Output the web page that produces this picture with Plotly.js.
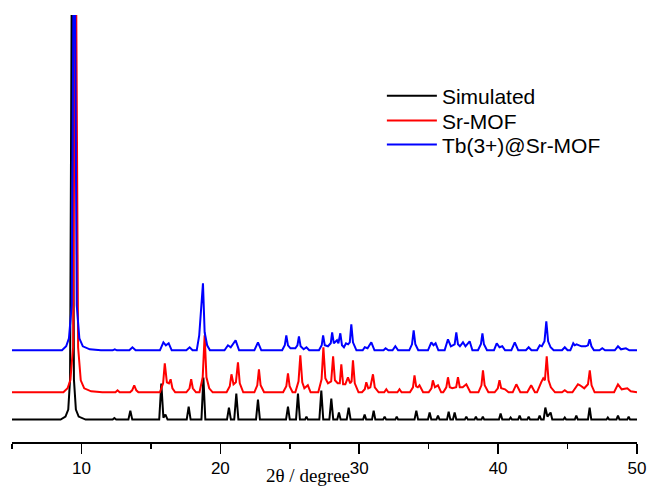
<!DOCTYPE html>
<html>
<head>
<meta charset="utf-8">
<script src="https://cdn.plot.ly/plotly-3.0.1.min.js"></script>
<style>html,body{margin:0;padding:0;background:#fff;}#chart{width:649px;height:494px;}</style>
</head>
<body>
<div id="chart"></div>
<script>
const seriesNames = ["Simulated", "Sr-MOF", "Tb(3+)@Sr-MOF"];
const seriesColors = ["#000000", "#ff0000", "#0000ff"];
const stackOffsets = [22.4, 49.7, 91.7];

const simTheta = [5.0, 8.5, 8.85, 9.05, 9.18, 9.32, 9.46, 9.6, 9.8, 10.3,
  12.25, 12.37, 12.5, 13.38, 13.52, 13.66,
  15.6, 15.75, 15.9, 16.05, 16.2, 17.58, 17.72, 17.86,
  18.64, 18.78, 18.92, 20.48, 20.62, 20.76, 21.0, 21.15, 21.3,
  22.57, 22.71, 22.85, 24.73, 24.87, 25.0, 25.45, 25.59, 25.73, 26.1, 26.2, 26.3,
  27.13, 27.27, 27.41, 27.85, 27.99, 28.13, 28.42, 28.54, 28.66, 29.1, 29.24, 29.38,
  30.28, 30.39, 30.5, 30.92, 31.04, 31.16, 31.72, 31.83, 31.94, 32.6, 32.7, 32.8,
  33.98, 34.11, 34.24, 34.95, 35.07, 35.19, 35.56, 35.67, 35.78,
  36.32, 36.44, 36.56, 36.75, 36.87, 36.99, 37.6, 37.71, 37.82, 38.3, 38.4, 38.5,
  38.8, 38.9, 39.0, 40.06, 40.18, 40.3, 40.8, 40.9, 41.0, 41.44, 41.55, 41.66,
  42.1, 42.2, 42.3, 42.88, 42.99, 43.1, 43.28, 43.4, 43.55, 43.78, 43.9,
  44.7, 44.8, 44.9, 45.52, 45.63, 45.74, 46.47, 46.59, 46.71,
  47.8, 47.9, 48.0, 48.52, 48.63, 48.74, 49.3, 49.4, 49.5, 50.0];
const simIntensity = [0, 0, 3, 10, 40, 500, 40, 10, 3, 0,
  0, 1.5, 0, 0, 9, 0,
  0, 36, 2, 5, 0, 0, 13, 0,
  0, 42, 0, 0, 12, 0, 0, 26, 0,
  0, 20, 0, 0, 13, 0, 0, 26, 0, 0, 3, 0,
  0, 29, 0, 0, 21, 0, 0, 7, 0, 0, 12, 0,
  0, 5, 0, 0, 9, 0, 0, 3, 0, 0, 3, 0,
  0, 9, 0, 0, 7, 0, 0, 4, 0,
  0, 8, 0, 0, 7, 0, 0, 3, 0, 0, 3, 0,
  0, 3, 0, 0, 6, 0, 0, 2, 0, 0, 4, 0,
  0, 3, 0, 0, 4, 0, 0, 12, 3, 7, 0,
  0, 2, 0, 0, 4, 0, 0, 12, 0,
  0, 2, 0, 0, 4, 0, 0, 3, 0, 0];

const srTheta = [5.0, 8.7, 9.0, 9.2, 9.4, 9.58, 9.76, 9.95, 10.2, 10.7, 11.5,
  12.45, 12.6, 12.75, 13.5, 13.65, 13.8, 13.95, 14.1,
  15.65, 15.88, 16.0, 16.15, 16.3, 16.42, 16.55, 16.75,
  17.55, 17.78, 17.9, 18.02, 18.25,
  18.5, 18.73, 18.87, 19.0, 19.2, 19.45,
  20.45, 20.68, 20.8, 20.95, 21.12, 21.27, 21.4, 21.65,
  22.45, 22.66, 22.78, 22.9, 23.15, 24.52, 24.75, 24.87, 24.99, 25.2,
  25.4, 25.63, 25.76, 25.9, 26.05, 26.3, 26.5,
  27.05, 27.29, 27.42, 27.56, 27.75, 27.98, 28.12, 28.25, 28.45, 28.6, 28.71, 28.84,
  29.0, 29.19, 29.35, 29.45, 29.55, 29.68, 29.95,
  30.2, 30.4, 30.51, 30.65, 30.8, 30.99, 31.12, 31.4,
  31.8, 31.95, 32.1, 32.75, 32.9, 33.05,
  33.65, 33.87, 33.98, 34.1, 34.22, 34.34, 34.6,
  35.0, 35.2, 35.3, 35.45, 35.67, 35.9,
  36.05, 36.27, 36.39, 36.52, 36.7, 36.98, 37.11, 37.24, 37.45, 37.71, 38.0,
  38.58, 38.8, 38.91, 39.03, 39.3,
  39.75, 39.98, 40.1, 40.22, 40.5, 40.75,
  41.05, 41.31, 41.6, 42.1, 42.38, 42.65,
  42.8, 43.1, 43.25, 43.37, 43.5, 43.63, 43.8, 44.1,
  44.6, 44.8, 45.0,
  45.35, 45.75, 45.9, 46.2, 46.47, 46.6, 46.73, 46.95,
  48.35, 48.63, 48.9, 49.3, 49.55, 50.0];
const srIntensity = [0, 0, 4, 12, 45, 500, 45, 12, 4, 1, 0,
  0, 2, 0, 0, 2, 7, 2, 0,
  0, 9, 29, 10, 9, 13, 4, 0,
  0, 4, 13, 4, 0,
  0, 15, 57, 15, 4, 0,
  0, 6, 18, 8, 10, 30, 9, 0,
  0, 7, 23, 7, 0, 0, 6, 19, 6, 0,
  0, 11, 37, 10, 4, 7, 0,
  0, 13, 45, 14, 9, 11, 36, 12, 9, 9, 28, 8,
  8, 15, 9, 11, 32, 9, 0,
  0, 3, 10, 4, 5, 18, 5, 0,
  0, 3, 0, 0, 3, 0,
  0, 5, 17, 6, 5, 7, 0,
  0, 4, 12, 5, 7, 0,
  0, 5, 15, 5, 4, 5, 15, 5, 5, 8, 0,
  0, 7, 22, 7, 0,
  0, 4, 12, 4, 3, 0,
  0, 8, 0, 0, 7, 0,
  0, 10, 14, 12, 36, 12, 5, 0,
  0, 2, 0,
  0, 8, 7, 4, 8, 22, 7, 0,
  0, 8, 3, 4, 1, 0];

const tbTheta = [5.0, 8.6, 8.9, 9.1, 9.3, 9.48, 9.66, 9.85, 10.1, 10.6, 11.4,
  12.25, 12.4, 12.55, 13.45, 13.67, 13.9,
  15.65, 15.9, 16.08, 16.28, 16.5, 17.55, 17.79, 18.0,
  18.3, 18.48, 18.62, 18.75, 18.87, 19.05, 19.25,
  20.3, 20.55, 20.75, 21.1, 21.35, 22.45, 22.71, 22.95,
  24.45, 24.64, 24.75, 24.87, 25.05, 25.4, 25.55, 25.66, 25.78, 26.0, 26.2, 26.4,
  27.1, 27.3, 27.4, 27.52, 27.75, 27.95, 28.05, 28.17, 28.4, 28.5, 28.64, 28.76,
  28.9, 29.05, 29.2, 29.32, 29.43, 29.55, 29.8,
  30.25, 30.4, 30.6, 30.87, 31.1, 31.75, 31.9, 32.1, 32.4, 32.6, 32.8,
  33.6, 33.8, 33.92, 34.04, 34.25, 34.95, 35.19, 35.35, 35.5, 35.7,
  36.15, 36.39, 36.6, 36.87, 36.99, 37.11, 37.25, 37.47, 37.65, 37.95, 38.15,
  38.55, 38.76, 38.87, 38.98, 39.2, 39.7, 39.9, 40.1, 40.3, 40.5,
  40.95, 41.2, 41.45, 42.0, 42.2, 42.4,
  42.8, 43.0, 43.15, 43.34, 43.47, 43.6, 43.78, 44.0, 44.6, 44.8, 45.0,
  45.2, 45.41, 45.52, 45.65, 46.0, 46.3, 46.47, 46.59, 46.72, 46.9,
  47.3, 47.5, 47.7, 48.4, 48.63, 48.85, 49.2, 49.45, 50.0];
const tbIntensity = [0, 0, 4, 12, 45, 500, 45, 12, 4, 1, 0,
  0, 1, 0, 0, 3, 0,
  0, 8, 5, 7, 0, 0, 3, 0,
  0, 15, 38, 67, 18, 5, 0,
  0, 5, 3, 10, 0, 0, 8, 0,
  0, 5, 15, 5, 2, 2, 5, 14, 4, 1, 3, 0,
  0, 5, 15, 5, 4, 7, 18, 7, 10, 7, 17, 5,
  3, 7, 6, 8, 26, 8, 0,
  0, 3, 2, 8, 0, 0, 2, 0, 0, 4, 0,
  0, 6, 20, 6, 0, 0, 8, 5, 7, 0,
  0, 11, 4, 6, 18, 6, 4, 8, 4, 9, 0,
  0, 6, 17, 6, 0, 0, 7, 3, 4, 0,
  0, 8, 0, 0, 3, 0,
  0, 5, 4, 9, 29, 9, 3, 0, 0, 3, 0,
  0, 7, 5, 6, 4, 4, 5, 11, 4, 0,
  0, 2, 0, 0, 4, 1, 2, 0, 0];

const xTickVals = [10, 20, 30, 40, 50];
const xTickText = ["10", "20", "30", "40", "50"];
const xTitle = "2θ / degree";

const thetas = [simTheta, srTheta, tbTheta];
const intens = [simIntensity, srIntensity, tbIntensity];
const legendIds = ["legend", "legend2", "legend3"];
const legendY = [0.858, 0.800, 0.744];

const traces = seriesNames.map((name, i) => ({
  type: "scatter",
  mode: "lines",
  name: name,
  legend: legendIds[i],
  x: thetas[i],
  y: intens[i].map(v => v + stackOffsets[i]),
  line: {color: seriesColors[i], width: 2},
  hoverinfo: "x+y+name"
}));

const legendFont = {family: "Liberation Sans, Arial, sans-serif", size: 21, color: "#000"};
function legendBox(y) {
  return {x: 0.5918, y: y, xanchor: "left", yanchor: "top", font: legendFont,
          bgcolor: "rgba(0,0,0,0)", itemwidth: 50, borderwidth: 0};
}

const layout = {
  width: 649,
  height: 494,
  margin: {l: 12, r: 12, t: 15, b: 52},
  paper_bgcolor: "#ffffff",
  plot_bgcolor: "#ffffff",
  showlegend: true,
  legend: legendBox(legendY[0]),
  legend2: legendBox(legendY[1]),
  legend3: legendBox(legendY[2]),
  xaxis: {
    range: [5, 50],
    tickmode: "array",
    tickvals: xTickVals,
    ticktext: xTickText,
    ticks: "outside",
    ticklen: 10,
    tickwidth: 1.5,
    tickcolor: "#000",
    minor: {dtick: 5, tick0: 5, ticks: "outside", ticklen: 5, tickwidth: 1.5, tickcolor: "#000", showgrid: false},
    showline: true,
    linecolor: "#000",
    linewidth: 1.5,
    showgrid: false,
    zeroline: false,
    tickfont: {family: "Liberation Sans, Arial, sans-serif", size: 17, color: "#000"}
  },
  yaxis: {
    range: [0, 427],
    showticklabels: false,
    showline: false,
    showgrid: false,
    zeroline: false,
    ticks: ""
  },
  annotations: [{
    text: xTitle,
    xref: "paper", yref: "paper",
    x: 0.474, y: 0, xanchor: "center", yanchor: "middle", yshift: -33,
    showarrow: false,
    font: {family: "Liberation Serif, Times New Roman, serif", size: 19, color: "#000"}
  }]
};

Plotly.newPlot("chart", traces, layout, {displayModeBar: false, staticPlot: true});
</script>
</body>
</html>
